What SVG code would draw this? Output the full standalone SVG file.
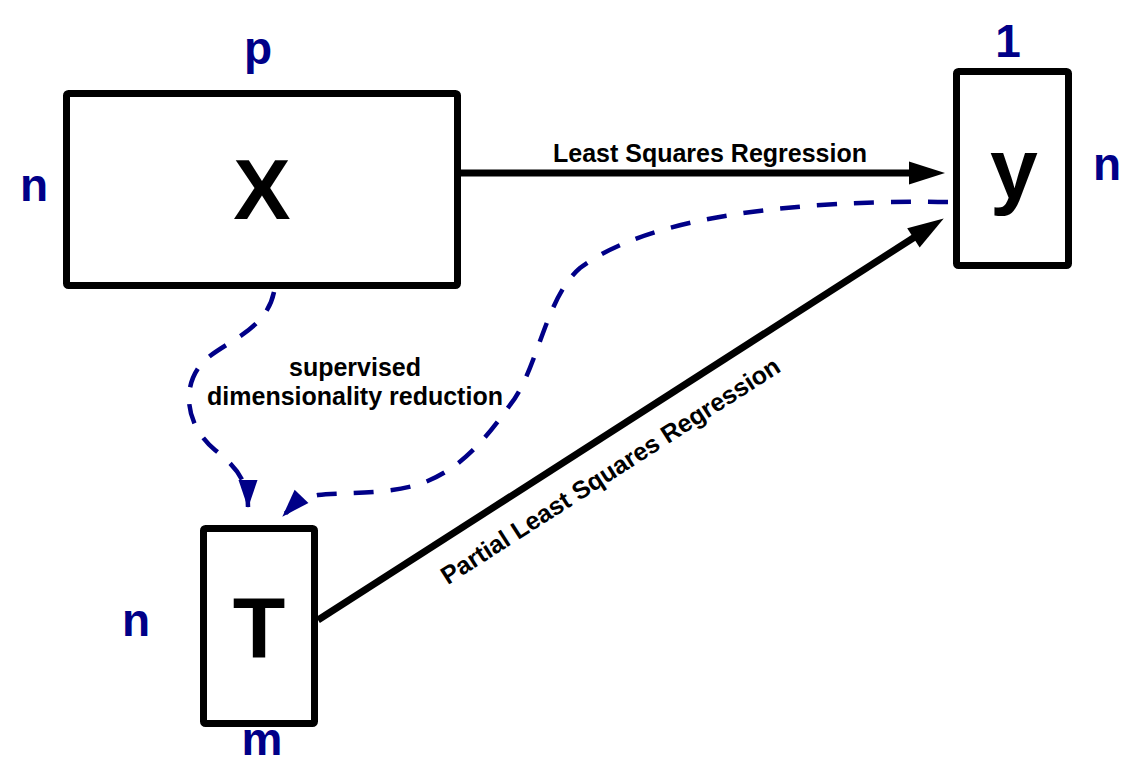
<svg xmlns="http://www.w3.org/2000/svg" width="1124" height="763" viewBox="0 0 1124 763">
<style>
.box{fill:#fff;stroke:#000;stroke-width:7;}
.big{font-family:"Liberation Sans",Arial,sans-serif;font-weight:bold;font-size:86px;fill:#000;text-anchor:middle;}
.dim{font-family:"Liberation Sans",Arial,sans-serif;font-weight:bold;font-size:46px;fill:#000088;text-anchor:middle;}
.lbl{font-family:"Liberation Sans",Arial,sans-serif;font-weight:bold;font-size:25px;fill:#000;text-anchor:middle;}
.solid{fill:none;stroke:#000;stroke-width:7;}
.dash{fill:none;stroke:#000088;stroke-width:4.5;stroke-dasharray:20 17;}
</style>
<defs>
<marker id="ab" markerUnits="userSpaceOnUse" markerWidth="40" markerHeight="26" refX="9" refY="11.5" orient="auto" overflow="visible">
<path d="M0,0 L36,11.5 L0,23 z" fill="#000"/>
</marker>
<marker id="an" markerUnits="userSpaceOnUse" markerWidth="30" markerHeight="22" refX="27" refY="9.5" orient="auto" overflow="visible">
<path d="M0,0 L28,9.5 L0,19 z" fill="#000088"/>
</marker>
</defs>
<g id="connectors">
<path class="solid" d="M461,173 L918,173" marker-end="url(#ab)"/>
<path class="solid" d="M318,620 L921,233" marker-end="url(#ab)"/>
<path class="dash" d="M274,292 C266,330 228,340 205,360 C180,385 185,425 215,450 C235,466 248,480 248,507" marker-end="url(#an)"/>
<path class="dash" d="M948,202 C800,200 650,215 580,268 C545,298 538,370 510,405 C485,440 460,470 420,484 C385,495 340,492 318,495 Q300,498 283,516" marker-end="url(#an)"/>
<text class="lbl" x="710" y="162">Least Squares Regression</text>
<text class="lbl" transform="translate(615,478) rotate(-32.7)" x="0" y="0">Partial Least Squares Regression</text>
<text class="lbl" x="355" y="376">supervised</text>
<text class="lbl" x="355" y="405">dimensionality reduction</text>
</g>
<g id="node-X">
<rect class="box" x="66.5" y="93.5" width="391" height="192" rx="2"/>
<text class="big" x="262" y="219">X</text>
<text class="dim" x="258" y="64">p</text>
<text class="dim" x="34" y="201">n</text>
</g>
<g id="node-y">
<rect class="box" x="956.5" y="71.5" width="112" height="194" rx="2"/>
<text class="big" x="1014" y="198">y</text>
<text class="dim" x="1008" y="57">1</text>
<text class="dim" x="1107" y="180">n</text>
</g>
<g id="node-T">
<rect class="box" x="203.5" y="528.5" width="111" height="195" rx="2"/>
<text class="big" x="259" y="657">T</text>
<text class="dim" x="136" y="636">n</text>
<text class="dim" x="262" y="755">m</text>
</g>
</svg>
